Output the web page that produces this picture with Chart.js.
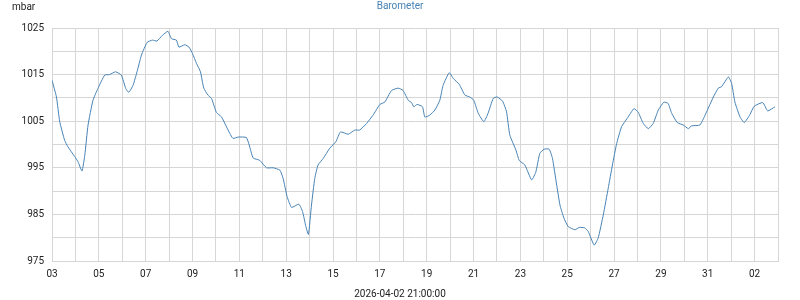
<!DOCTYPE html>
<html>
<head>
<meta charset="utf-8">
<script src="https://cdn.jsdelivr.net/npm/chart.js@4/dist/chart.umd.min.js"></script>
<style>
  html, body { margin: 0; padding: 0; background: #ffffff; }
  #wrap { width: 800px; height: 300px; position: relative; }
</style>
</head>
<body>
<div id="wrap"><canvas id="c" width="800" height="300"></canvas></div>
<script>
// Time axis: days since 2026-03-03 00:00
const dayOffsets = [
  0.00, 0.19, 0.33, 0.54, 0.68, 0.97, 1.11, 1.28, 1.40, 1.54, 1.75, 1.96,
  2.25, 2.46, 2.71, 2.96, 3.15, 3.28, 3.46, 3.63, 3.82, 4.06, 4.29, 4.48,
  4.71, 4.95, 5.10, 5.31, 5.42, 5.67, 5.85, 6.00, 6.17, 6.34, 6.48, 6.66,
  6.81, 7.02, 7.24, 7.45, 7.59, 7.73, 7.95, 8.30, 8.42, 8.59, 8.87, 9.16,
  9.44, 9.73, 9.87, 10.04, 10.23, 10.54, 10.70, 10.84, 10.95, 11.08, 11.22, 11.36,
  11.58, 11.86, 12.12, 12.32, 12.65, 12.93, 13.14, 13.43, 13.71, 14.00, 14.21, 14.50,
  14.78, 14.99, 15.21, 15.35, 15.45, 15.59, 15.82, 15.92, 16.13, 16.35, 16.56, 16.70,
  16.96, 17.13, 17.39, 17.63, 17.84, 18.01, 18.20, 18.44, 18.62, 18.84, 19.01, 19.24,
  19.41, 19.55, 19.81, 19.95, 20.19, 20.48, 20.66, 20.83, 21.01, 21.23, 21.37, 21.55,
  21.69, 21.86, 22.04, 22.33, 22.51, 22.75, 22.90, 23.15, 23.32, 23.54, 23.75, 23.93,
  24.11, 24.32, 24.56, 24.85, 25.03, 25.25, 25.46, 25.67, 25.89, 26.13, 26.31, 26.46,
  26.70, 26.95, 27.17, 27.31, 27.67, 27.95, 28.24, 28.45, 28.59, 28.88, 29.02, 29.16,
  29.38, 29.56, 29.80, 29.98, 30.35, 30.56, 30.87
];
const pressure = [
  1013.8, 1010.2, 1004.9, 1000.9, 999.5, 997.4, 996.3, 994.3, 997.7, 1004.2, 1009.5, 1012.0,
  1014.9, 1015.0, 1015.6, 1014.9, 1012.0, 1011.2, 1012.7, 1015.6, 1019.2, 1021.9, 1022.4, 1022.2,
  1023.4, 1024.3, 1022.7, 1022.4, 1020.9, 1021.4, 1020.9, 1019.5, 1017.4, 1015.6, 1012.1, 1010.6,
  1009.9, 1006.9, 1005.9, 1003.8, 1002.4, 1001.3, 1001.6, 1001.5, 999.9, 997.1, 996.6, 995.0,
  995.0, 994.5, 992.7, 988.8, 986.5, 987.2, 985.6, 982.4, 980.7, 987.0, 992.7, 995.6,
  997.0, 999.2, 1000.6, 1002.7, 1002.2, 1003.1, 1003.1, 1004.5, 1006.3, 1008.6, 1009.1, 1011.6,
  1012.1, 1011.6, 1009.5, 1009.0, 1008.1, 1008.6, 1008.1, 1005.9, 1006.3, 1007.4, 1009.5, 1012.7,
  1015.4, 1014.2, 1012.9, 1010.6, 1010.2, 1009.5, 1006.7, 1004.9, 1006.7, 1009.9, 1010.2, 1009.3,
  1007.0, 1002.0, 998.8, 996.6, 995.6, 992.4, 994.1, 998.1, 999.0, 999.0, 997.0, 991.3,
  987.0, 984.2, 982.4, 981.7, 982.2, 982.1, 981.3, 978.4, 979.9, 984.9, 990.6, 995.6,
  1000.2, 1003.8, 1005.6, 1007.7, 1006.9, 1004.5, 1003.4, 1004.5, 1007.4, 1009.1, 1008.8, 1006.7,
  1004.7, 1004.2, 1003.4, 1004.0, 1004.2, 1007.0, 1010.2, 1012.1, 1012.4, 1014.5, 1013.1, 1009.1,
  1005.9, 1004.7, 1006.4, 1008.2, 1009.0, 1007.2, 1008.1
];
// Labels for every second day, starting 03 (March) through 02 (April)
const xTickLabels = ['03','05','07','09','11','13','15','17','19','21','23','25','27','29','31','02'];
const yTickLabels = [975, 985, 995, 1005, 1015, 1025];

const titleText = 'Barometer';
const unitText = 'mbar';
const footerText = '2026-04-02 21:00:00';

const FONT = 'Roboto, "Liberation Sans", sans-serif';
const GRID = '#d6d6d6';
const LINE = '#4682b4';

const textPlugin = {
  id: 'texts',
  afterDraw(chart) {
    const ctx = chart.ctx;
    ctx.save();
    ctx.font = '10px ' + FONT;
    ctx.textBaseline = 'middle';
    ctx.fillStyle = '#222222';
    ctx.textAlign = 'left';
    ctx.fillText(unitText, 12, 7);
    ctx.fillStyle = LINE;
    ctx.textAlign = 'center';
    ctx.fillText(titleText, 400, 6);
    ctx.fillStyle = '#222222';
    ctx.fillText(footerText, 400, 294);
    ctx.restore();
  }
};

new Chart(document.getElementById('c'), {
  type: 'line',
  data: {
    datasets: [{
      data: dayOffsets.map((d, i) => ({ x: d, y: pressure[i] })),
      borderColor: LINE,
      borderWidth: 1,
      pointRadius: 0,
      fill: false,
      tension: 0.15
    }]
  },
  options: {
    responsive: false,
    animation: false,
    layout: { padding: { top: 28, right: 22, bottom: 0, left: 0 } },
    plugins: { legend: { display: false }, title: { display: false }, tooltip: { enabled: false } },
    scales: {
      x: {
        type: 'linear',
        min: 0,
        max: 31,
        afterFit(s) { s.height = 39; },
        afterBuildTicks(s) {
          const t = [];
          for (let i = 0; i <= 31; i++) t.push({ value: i });
          s.ticks = t;
        },
        ticks: {
          autoSkip: false,
          maxRotation: 0,
          padding: 7,
          color: '#222222',
          font: { family: FONT, size: 10 },
          callback(v) { return v % 2 === 0 ? xTickLabels[v / 2] : ''; }
        },
        grid: { color: GRID, lineWidth: 1, drawTicks: false },
        border: { color: GRID }
      },
      y: {
        min: 975,
        max: 1025,
        afterFit(s) { s.width = 52; },
        ticks: {
          stepSize: 5,
          padding: 8,
          color: '#222222',
          font: { family: FONT, size: 10 },
          callback(v) { return yTickLabels.includes(v) ? String(v) : ''; }
        },
        grid: { color: GRID, lineWidth: 1, drawTicks: false },
        border: { color: GRID }
      }
    }
  },
  plugins: [textPlugin]
});
</script>
</body>
</html>
